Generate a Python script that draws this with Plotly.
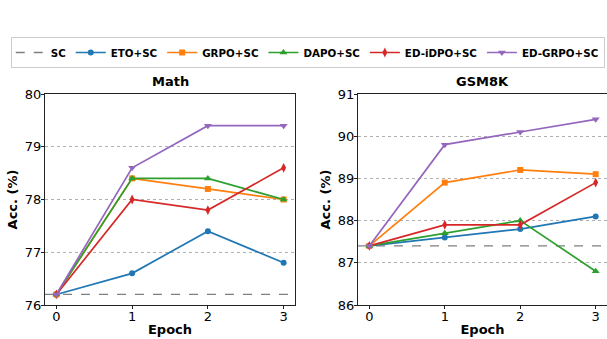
import plotly.graph_objects as go

epochs = [0, 1, 2, 3]
series_names = ["ETO+SC", "GRPO+SC", "DAPO+SC", "ED-iDPO+SC", "ED-GRPO+SC"]

math_sc = 76.2
math_eto = [76.2, 76.6, 77.4, 76.8]
math_grpo = [76.2, 78.4, 78.2, 78.0]
math_dapo = [76.2, 78.4, 78.4, 78.0]
math_edidpo = [76.2, 78.0, 77.8, 78.6]
math_edgrpo = [76.2, 78.6, 79.4, 79.4]

gsm_sc = 87.4
gsm_eto = [87.4, 87.6, 87.8, 88.1]
gsm_grpo = [87.4, 88.9, 89.2, 89.1]
gsm_dapo = [87.4, 87.7, 88.0, 86.8]
gsm_edidpo = [87.4, 87.9, 87.9, 88.9]
gsm_edgrpo = [87.4, 89.8, 90.1, 90.4]

math_ticks = [76, 77, 78, 79, 80]
gsm_ticks = [86, 87, 88, 89, 90, 91]
x_range = [-0.15, 3.15]

colors = ["#1f77b4", "#ff7f0e", "#2ca02c", "#d62728", "#9467bd"]
symbols = ["circle", "square", "triangle-up", "diamond-tall", "triangle-down"]
sizes = [6, 6, 7, 7, 7]

FONT = "DejaVu Sans"
fig = go.Figure()

panels = [
    ("x", "y", math_sc, [math_eto, math_grpo, math_dapo, math_edidpo, math_edgrpo]),
    ("x2", "y2", gsm_sc, [gsm_eto, gsm_grpo, gsm_dapo, gsm_edidpo, gsm_edgrpo]),
]
for i, (xa, ya, sc, data) in enumerate(panels):
    fig.add_trace(go.Scatter(
        x=x_range, y=[sc, sc], xaxis=xa, yaxis=ya, mode="lines",
        line=dict(color="#7f7f7f", width=1.3, dash="dash"),
        name="SC", legendgroup="SC", showlegend=(i == 0)))
    for name, vals, c, s, sz in zip(series_names, data, colors, symbols, sizes):
        fig.add_trace(go.Scatter(
            x=epochs, y=vals, xaxis=xa, yaxis=ya, mode="lines+markers",
            line=dict(color=c, width=1.7),
            marker=dict(color=c, symbol=s, size=sz, line=dict(width=0)),
            name=name, legendgroup=name, showlegend=(i == 0)))

H = 339
W = 607
ybot = (H - 305) / H
ytop = (H - 94) / H
axis_common = dict(
    showline=True, linecolor="#222", linewidth=1, mirror=True,
    tickcolor="#222", automargin=True,
    tickfont=dict(family=FONT, size=13, color="black"),
    zeroline=False,
)
xaxis_extra = dict(ticks="outside", ticklen=3, ticklabelstandoff=-4)
yaxis_extra = dict(ticks="outside", ticklen=3, ticklabelstandoff=-3,
                   showgrid=True, gridcolor="#b0b0b0", griddash="dot", gridwidth=0.8)
fig.update_layout(
    width=W, height=H,
    margin=dict(l=0, r=0, t=0, b=0, autoexpand=False),
    plot_bgcolor="white", paper_bgcolor="white",
    font=dict(family=FONT, color="black"),
    showlegend=True,
    legend=dict(
        orientation="h", x=0.507, xanchor="center", y=(H - 52.5) / H, yanchor="middle",
        bordercolor="#cccccc", borderwidth=1,
        font=dict(family=FONT, size=10.3, color="black", weight="bold"),
        tracegroupgap=0,
    ),
    xaxis=dict(domain=[45 / W, 295 / W], range=x_range, tickvals=epochs,
               showgrid=False, anchor="y",
               title=dict(text="<b>Epoch</b>", font=dict(size=13), standoff=2),
               **axis_common, **xaxis_extra),
    yaxis=dict(domain=[ybot, ytop], range=[76, 80], tickvals=math_ticks,
               anchor="x",
               title=dict(text="<b>Acc. (%)</b>", font=dict(size=13), standoff=4),
               **axis_common, **yaxis_extra),
    xaxis2=dict(domain=[358 / W, 1.0], range=x_range, tickvals=epochs,
                showgrid=False, anchor="y2",
                title=dict(text="<b>Epoch</b>", font=dict(size=13), standoff=2),
                **axis_common, **xaxis_extra),
    yaxis2=dict(domain=[ybot, ytop], range=[86, 91], tickvals=gsm_ticks,
                anchor="x2",
                title=dict(text="<b>Acc. (%)</b>", font=dict(size=13), standoff=4),
                **axis_common, **yaxis_extra),
    annotations=[
        dict(text="<b>Math</b>", x=(45 + 295) / 2 / W, y=ytop, xref="paper", yref="paper",
             xanchor="center", yanchor="bottom", yshift=3, showarrow=False,
             font=dict(family=FONT, size=13)),
        dict(text="<b>GSM8K</b>", x=(358 + 607) / 2 / W, y=ytop, xref="paper", yref="paper",
             xanchor="center", yanchor="bottom", yshift=3, showarrow=False,
             font=dict(family=FONT, size=13)),
    ],
)
fig.write_html("out.html", config={"displayModeBar": False},
               post_script="document.body.style.margin='0';document.body.style.overflow='hidden';")
